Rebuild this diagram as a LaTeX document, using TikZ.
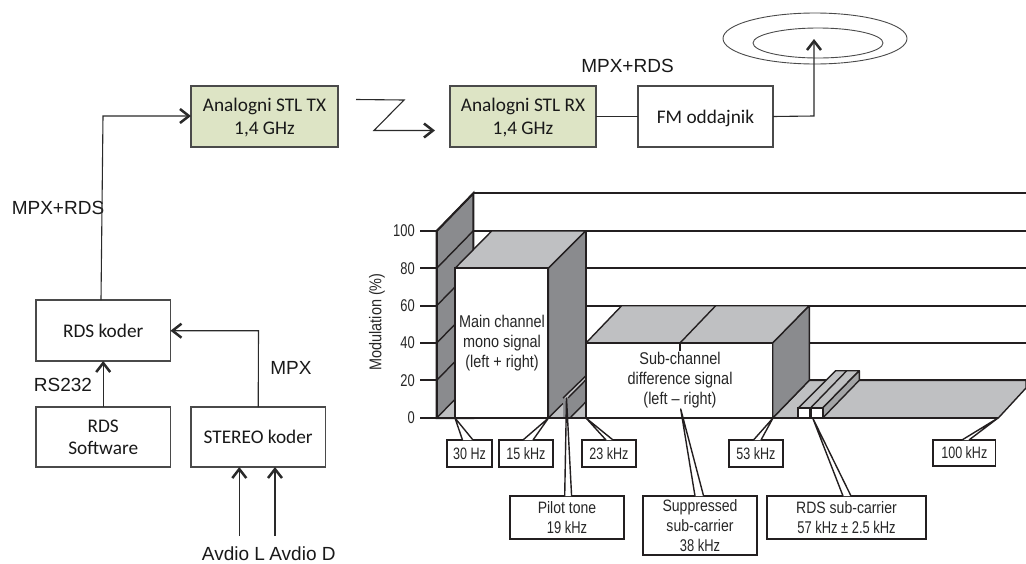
\documentclass[tikz,border=0pt]{standalone}
\usepackage{fontspec}
\usetikzlibrary{arrows.meta,shapes.geometric}
\setmainfont{Carlito}
\newfontfamily\arialfont{Liberation Sans}
\newfontfamily\chartfont[FakeStretch=0.85]{Liberation Sans}
\newfontfamily\chartnarrow[FakeStretch=0.76]{Liberation Sans}
\definecolor{stlgreen}{HTML}{DDE4C5}
\definecolor{boxedge}{HTML}{4A4A4A}
\definecolor{wiregrey}{HTML}{2A2A2A}
\definecolor{darkface}{HTML}{8A8B8E}
\definecolor{lightface}{HTML}{BFC0C2}
\definecolor{midface}{HTML}{A3A4A6}
\definecolor{inkline}{HTML}{231F20}
\newcommand{\lowerit}[1]{\raisebox{-7.3pt}[0pt][0pt]{\begin{tabular}{@{}c@{}}#1\end{tabular}}}
\tikzset{
  blockbox/.style={draw=boxedge,line width=1.1pt,fill=white,inner sep=0pt,outer sep=0pt,align=center,
    font=\fontsize{19.3}{22.5}\selectfont,text=black!90},
  stlbox/.style={blockbox,fill=stlgreen},
  wire/.style={draw=wiregrey,line width=1.1pt},
  wirearrow/.style={wire,-{Straight Barb[length=9pt,width=14pt,line width=2.5pt]}},
  plainlabel/.style={font=\arialfont\fontsize{19}{22}\selectfont,inner sep=0pt,text=black!90},
  ticktext/.style={font=\chartnarrow\fontsize{17}{20}\selectfont,inner sep=0pt,anchor=east,text=black!85},
  charttext/.style={font=\chartfont\fontsize{17}{20}\selectfont,inner sep=0pt,align=center,text=black!85},
  heavy/.style={draw=inkline,line width=2.1pt},
  thinline/.style={draw=inkline,line width=1.4pt},
  callout/.style={draw=inkline,line width=1.5pt,fill=white,inner sep=0pt,outer sep=0pt,align=center,
    text=black!85,font=\chartnarrow\fontsize{16.5}{20}\selectfont},
  calloutbig/.style={callout,font=\chartfont\fontsize{16.5}{20}\selectfont},
}
\newcommand{\nw}{\chartnarrow\fontsize{17}{20}\selectfont}
\newcommand{\calloutleader}[3]{% apex, foot a, foot b
  \fill[white] (#1) -- (#2) -- (#3) -- cycle;
  \draw[thinline,line join=round] (#2) -- (#1) -- (#3);
}
\begin{document}
\begin{tikzpicture}[x=1pt,y=-1pt]
\useasboundingbox (0,0) rectangle (1026,563);
% --- block diagram ---
\node[stlbox,minimum width=147pt,minimum height=61pt] (tx) at (264.5,116.5) {\lowerit{Analogni STL TX\\1,4 GHz}};
\node[stlbox,minimum width=146pt,minimum height=61pt] (rx) at (523,116.5) {\lowerit{Analogni STL RX\\1,4 GHz}};
\node[blockbox,minimum width=135pt,minimum height=61pt] (fm) at (705.5,116.5) {\lowerit{FM oddajnik}};
\node[blockbox,minimum width=134.5pt,minimum height=61pt] (rds) at (103.2,330.5) {\lowerit{RDS koder}};
\node[blockbox,minimum width=134.5pt,minimum height=60pt] (soft) at (103.2,437) {\lowerit{RDS\\Software}};
\node[blockbox,minimum width=134.5pt,minimum height=60pt] (stereo) at (258.2,437) {\lowerit{STEREO koder}};
\node[plainlabel] (lblrdsa) at (58,207.5) {MPX+RDS};
\node[plainlabel] (lblrdsb) at (627.5,65.5) {MPX+RDS};
\node[plainlabel] (lblrs) at (63,385) {RS232};
\node[plainlabel] (lblmpx) at (291,368) {MPX};
\node[plainlabel] (avl) at (233.5,553.5) {Avdio L};
\node[plainlabel] (avd) at (302.5,553.5) {Avdio D};
\coordinate (r1) at (101,300);
\coordinate (r2) at (103,116);
\draw[wirearrow] (r1) -- (r2) -- (tx.west |- r2);
\draw[wirearrow] (soft.north) -- (rds.south);
\coordinate (s1) at (258.5,330.7);
\draw[wirearrow] (stereo.north) -- (s1) -- (rds.east |- s1);
\coordinate (al) at (239.3,536);
\coordinate (ad) at (275,536);
\draw[wirearrow] (al) -- (al |- stereo.south);
\draw[wirearrow] (ad) -- (ad |- stereo.south);
\draw[wire] (rx.east) -- (fm.west);
\coordinate (z1) at (356,99.5);
\coordinate (z2) at (404,100);
\coordinate (z3) at (374,130.5);
\coordinate (z4) at (435,130.5);
\draw[wirearrow] (z1) -- (z2) -- (z3) -- (z4);
\node[draw=boxedge,line width=.9pt,ellipse,minimum width=184pt,minimum height=51pt,inner sep=0pt] (outer) at (815,38.5) {};
\node[draw=boxedge,line width=.9pt,ellipse,minimum width=130pt,minimum height=30pt,inner sep=0pt] (inner) at (818,43) {};
\coordinate (f1) at (814,116);
\coordinate (f2) at (814,39);
\draw[wirearrow] (fm.east) -- (f1) -- (f2);
% --- chart: back lines ---
\foreach \yy in {193.3,231} \draw[heavy] (473.3,\yy) -- (1026,\yy);
\foreach \yy in {268.3,305.7,343,380.3} \draw[heavy] (585.7,\yy) -- (1026,\yy);
% wall
\filldraw[heavy,fill=darkface] (436.7,418) -- (436.7,231) -- (473.3,193.3) -- (473.3,418) -- cycle;
\fill[lightface] (436.7,418) -- (455,418) -- (455,400) -- cycle;
\foreach \yy in {231,268.3,305.7,343,380.3,418} \draw[thinline] (436.7,\yy) -- (473.3,\yy-37.5);
\foreach \yy in {231,268.3,305.7,343,380.3} \draw[heavy] (420,\yy) -- (436.7,\yy);
\foreach \t/\yy in {100/231,80/268.3,60/305.7,40/343,20/380.3,0/418}
  \node[ticktext] (tick\t) at (415,\yy) {\t};
\node[charttext,rotate=90] (ylab) at (377,322) {Modulation (\%)};
% floor
\filldraw[thinline,fill=lightface] (772.7,418) -- (809.3,380.3) -- (1026,380.3) -- (1026,388) -- (998.3,418) -- cycle;
\draw[heavy] (809.3,380.3) -- (1026,380.3);
% main block
\fill[white] (473.3,380) rectangle (455,418);
\filldraw[thinline,fill=lightface,line join=round] (455,268.3) -- (491.7,231) -- (585.7,231) -- (548.3,268.3) -- cycle;
\filldraw[thinline,fill=darkface,line join=round] (548.3,268.3) -- (585.7,231) -- (585.7,418) -- (548.3,418) -- cycle;
\filldraw[heavy,fill=white] (455,268.3) rectangle (548.3,418);
\fill[lightface] (549,418) -- (563,418) -- (563,403.5) -- cycle;
\fill[lightface] (570,418) -- (585,418) -- (585,402) -- cycle;
\draw[thinline] (548.3,418) -- (563,403.5);
\draw[thinline] (570,418) -- (585.7,402);
\fill[lightface] (563,398) -- (568,398) -- (585.7,380) -- (585.7,376) -- cycle;
\draw[thinline] (563,398) -- (585.7,376);
\draw[thinline] (568,398) -- (585.7,380);
\node[charttext] (mainlab) at (502,343) {Main channel\\mono signal\\(left + right)};
% sub-channel block
\filldraw[thinline,fill=lightface,line join=round] (586,343) -- (621.7,305.7) -- (809.3,305.7) -- (772.7,343) -- cycle;
\filldraw[thinline,fill=darkface,line join=round] (772.7,343) -- (809.3,305.7) -- (809.3,380.3) -- (772.7,418) -- cycle;
\fill[white] (586.7,343.8) rectangle (772,418);
\draw[heavy] (586,343) -- (772.7,343);
\draw[thinline] (680,343) -- (715.7,305.7);
\draw[thinline] (680,343) -- (680,351);
\node[charttext] (sublab) at (680,380) {Sub-channel\\difference signal\\(left – right)};
\draw[heavy] (585.7,231) -- (585.7,418);
% RDS bar
\filldraw[thinline,fill=lightface,line join=round] (798.3,408) -- (835.7,370.7) -- (859.3,370.7) -- (822.7,408) -- cycle;
\filldraw[thinline,fill=midface,line join=round] (822.7,408) -- (859.3,370.7) -- (859.3,380.3) -- (822.7,418) -- cycle;
\filldraw[heavy,fill=white] (798.3,408) rectangle (822.7,418);
\draw[heavy] (810.5,408) -- (810.5,418);
\draw[thinline] (810.5,408) -- (846.7,370.7);
% baseline
\draw[heavy] (420,418) -- (998.3,418);
% --- callouts ---
\node[callout,minimum width=45pt,minimum height=27pt] (c30) at (469.5,453.5) {30 Hz};
\node[callout,minimum width=54pt,minimum height=27pt] (c15) at (526,453.5) {15 kHz};
\node[callout,minimum width=54pt,minimum height=27pt] (c23) at (609,453.5) {23 kHz};
\node[callout,minimum width=54pt,minimum height=27pt] (c53) at (756,453.5) {53 kHz};
\node[callout,minimum width=62.5pt,minimum height=26pt] (c100) at (964.3,453) {100 kHz};
\node[calloutbig,minimum width=114pt,minimum height=43pt] (cpilot) at (567,517.5) {Pilot tone\\{\nw 19 kHz}};
\node[calloutbig,minimum width=114pt,minimum height=59pt] (csupp) at (700,525.5) {Suppressed\\sub-carrier\\{\nw 38 kHz}};
\node[calloutbig,minimum width=159pt,minimum height=43pt] (crdsc) at (846.5,517.5) {RDS sub-carrier\\{\nw 57 kHz ± 2.5 kHz}};
\coordinate (a30) at (455,418);   \coordinate (a30a) at (462.5,440); \coordinate (a30b) at (473,440);
\coordinate (a15) at (548.5,418); \coordinate (a15a) at (523,440);   \coordinate (a15b) at (533,440);
\coordinate (a23) at (586,418);   \coordinate (a23a) at (606,440);   \coordinate (a23b) at (613,440);
\coordinate (a53) at (773,418);   \coordinate (a53a) at (753.5,440); \coordinate (a53b) at (761,440);
\coordinate (a100) at (998,418);  \coordinate (a100a) at (962,440);  \coordinate (a100b) at (969,440);
\coordinate (apil) at (566.5,398);\coordinate (apila) at (564.7,496);\coordinate (apilb) at (571.6,496);
\coordinate (asup) at (680.7,409);\coordinate (asupa) at (695,496);  \coordinate (asupb) at (703.6,496);
\coordinate (ards) at (812.7,418);\coordinate (ardsa) at (843,496);  \coordinate (ardsb) at (851,496);
\calloutleader{a30}{a30a}{a30b}
\calloutleader{a15}{a15a}{a15b}
\calloutleader{a23}{a23a}{a23b}
\calloutleader{a53}{a53a}{a53b}
\calloutleader{a100}{a100a}{a100b}
\calloutleader{apil}{apila}{apilb}
\calloutleader{asup}{asupa}{asupb}
\calloutleader{ards}{ardsa}{ardsb}
\end{tikzpicture}
\end{document}
